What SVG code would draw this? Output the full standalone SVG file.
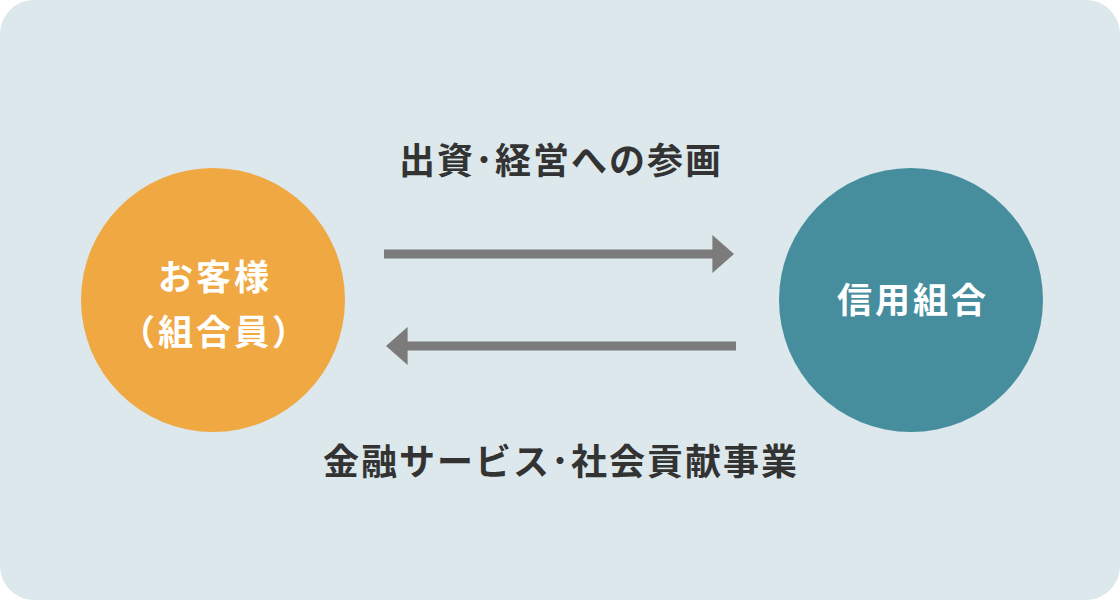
<svg xmlns="http://www.w3.org/2000/svg" width="1120" height="600" viewBox="0 0 1120 600">
<style>
text{font-family:"Noto Sans CJK JP","Noto Sans",sans-serif;font-weight:700;text-anchor:middle}
.lbl{font-size:36px;fill:#333;letter-spacing:2px}
.c{font-size:35px;fill:#fff;letter-spacing:3px}
.arr{stroke:#7b7b7b;stroke-width:9;fill:none}
</style>
<defs>
<marker id="ah" markerWidth="2.4" markerHeight="4.2" refX="0.4" refY="2.1" orient="auto" markerUnits="strokeWidth">
<path d="M0,0L2.4,2.1L0,4.2z" fill="#7b7b7b"/>
</marker>
</defs>
<rect x="0" y="0" width="1120" height="600" rx="34" fill="#dce8eb"/>
<g id="customer"><circle cx="213" cy="300" r="132" fill="#f0a842"/>
<text class="c" x="215" y="290">お客様</text><text class="c" x="215" y="345">（組合員）</text></g>
<g id="union"><circle cx="911" cy="300" r="132" fill="#468d9e"/>
<text class="c" x="913" y="313">信用組合</text></g>
<g id="connectors">
<line class="arr" x1="384" y1="254" x2="716" y2="254" marker-end="url(#ah)"/>
<line class="arr" x1="736" y1="346" x2="404" y2="346" marker-end="url(#ah)"/>
</g>
<text class="lbl" x="561" y="174">出資･経営への参画</text>
<text class="lbl" x="561" y="475">金融サービス･社会貢献事業</text>
</svg>
